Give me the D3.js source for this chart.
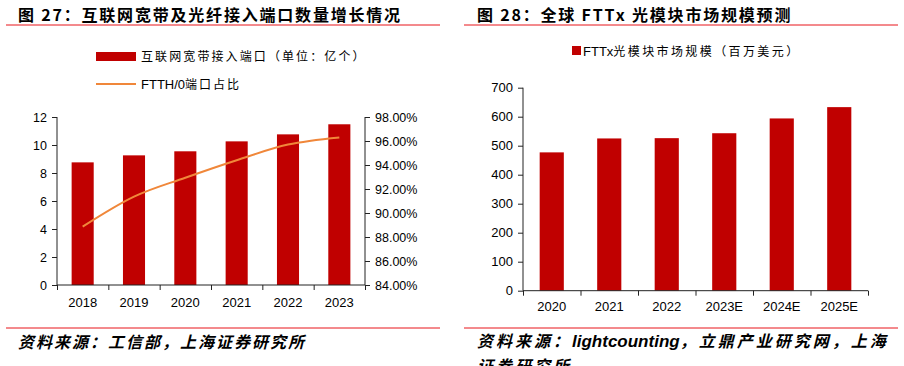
<!DOCTYPE html>
<html>
<head>
<meta charset="UTF-8">
<script src="https://cdn.jsdelivr.net/npm/d3@7"></script>
<title>FTTx</title>
<style>
  body{margin:0;background:#fff;}
  text{font-family:"Liberation Sans","Noto Sans CJK SC",sans-serif;fill:#000;}
  .cn{font-family:"Noto Sans CJK SC",sans-serif;}
</style>
</head>
<body>
<div id="container"></div>
<script>
// 图27 数据
var years1 = ["2018","2019","2020","2021","2022","2023"];
var ports = [8.76, 9.26, 9.55, 10.26, 10.76, 11.48];
var ftthShare = [88.86, 91.36, 92.94, 94.4, 95.7, 96.3];
var leftTicks1 = [0,2,4,6,8,10,12];
var rightTicks1 = [84,86,88,90,92,94,96,98];

// 图28 数据
var years2 = ["2020","2021","2022","2023E","2024E","2025E"];
var market = [477, 525, 526, 543, 594, 633];
var ticks2 = [0,100,200,300,400,500,600,700];

var barColor = "#C00000", lineColor = "#F0873A";

var svg = d3.select("#container").append("svg")
  .attr("width",904).attr("height",366);

// 标题和红线
function header(x0, x1, tx, label){
  svg.append("text").attr("x",tx).attr("y",21)
    .attr("class","cn").style("font-size","16px").style("font-weight","bold")
    .style("letter-spacing","1.8px").text(label);
  svg.append("line").attr("x1",x0).attr("x2",x1).attr("y1",25).attr("y2",25)
    .attr("stroke","#E8141B").attr("stroke-width",1);
  svg.append("line").attr("x1",x0).attr("x2",x1).attr("y1",328).attr("y2",328)
    .attr("stroke","#E8141B").attr("stroke-width",1);
}
header(6, 440, 18, "图 27：互联网宽带及光纤接入端口数量增长情况");
header(464, 898, 477, "图 28：全球 FTTx 光模块市场规模预测");

// ---------- 图27 ----------
var x1 = d3.scaleBand().domain(years1).range([57,365]).paddingInner(0.57).paddingOuter(0.285);
var y1 = d3.scaleLinear().domain([0,12]).range([285,117]);
var yr1 = d3.scaleLinear().domain([84,98]).range([285,117]);

var g1 = svg.append("g");
g1.selectAll("rect").data(ports).enter().append("rect")
  .attr("x",function(d,i){return x1(years1[i])})
  .attr("y",function(d){return y1(d)})
  .attr("width",x1.bandwidth())
  .attr("height",function(d){return y1(0)-y1(d)})
  .attr("fill",barColor);

var line1 = d3.line()
  .x(function(d,i){return x1(years1[i])+x1.bandwidth()/2})
  .y(function(d){return yr1(d)})
  .curve(d3.curveMonotoneX);
g1.append("path").datum(ftthShare).attr("d",line1)
  .attr("fill","none").attr("stroke",lineColor).attr("stroke-width",2);

// 坐标轴
var axL = g1.append("g").attr("transform","translate(57,0)")
  .call(d3.axisLeft(y1).tickValues(leftTicks1).tickSize(5).tickPadding(5));
var axR = g1.append("g").attr("transform","translate(365,0)")
  .call(d3.axisRight(yr1).tickValues(rightTicks1).tickSize(5).tickPadding(5)
    .tickFormat(function(d){return d.toFixed(2)+"%"}));
var xb1 = d3.scalePoint().domain(d3.range(7)).range([57,365]);
var axB = g1.append("g").attr("transform","translate(0,285)")
  .call(d3.axisBottom(xb1).tickSize(5).tickFormat(""));
g1.selectAll(".yr").data(years1).enter().append("text")
  .attr("x",function(d){return x1(d)+x1.bandwidth()/2}).attr("y",307)
  .attr("text-anchor","middle").style("font-size","13px").text(function(d){return d});
[axL,axR,axB].forEach(function(a){
  a.selectAll("path,line").attr("stroke","#222");
  a.select(".domain").attr("d", a === axB ? "M57,0H365" : "M0,117V285");
  a.selectAll("text").style("font-size","12.5px").style("font-family","Liberation Sans").attr("fill","#000");
});

// 图例
g1.append("rect").attr("x",96).attr("y",52).attr("width",40).attr("height",9).attr("fill",barColor);
g1.append("text").attr("x",141).attr("y",61).attr("class","cn")
  .style("font-size","12px").style("letter-spacing","2.1px").text("互联网宽带接入端口（单位：亿个）");
g1.append("line").attr("x1",96).attr("x2",136).attr("y1",84).attr("y2",84)
  .attr("stroke",lineColor).attr("stroke-width",2);
g1.append("text").attr("x",141).attr("y",89).style("font-size","13px").text("FTTH/0")
  .append("tspan").attr("class","cn").style("font-size","12px").style("letter-spacing","2px").text("端口占比");

g1.append("text").attr("x",18).attr("y",348).attr("class","cn")
  .style("font-size","16px").style("font-style","italic").style("font-weight","bold")
  .style("letter-spacing","2px").text("资料来源：工信部，上海证券研究所");

// ---------- 图28 ----------
var x2 = d3.scaleBand().domain(years2).range([523,868]).paddingInner(0.58).paddingOuter(0.29);
var y2 = d3.scaleLinear().domain([0,700]).range([290.7,87.7]);

var g2 = svg.append("g");
g2.selectAll("rect").data(market).enter().append("rect")
  .attr("x",function(d,i){return x2(years2[i])})
  .attr("y",function(d){return y2(d)})
  .attr("width",x2.bandwidth())
  .attr("height",function(d){return y2(0)-y2(d)})
  .attr("fill",barColor);

var ax2L = g2.append("g").attr("transform","translate(523,0)")
  .call(d3.axisLeft(y2).tickValues(ticks2).tickSize(5).tickPadding(5));
var xb2 = d3.scalePoint().domain(d3.range(7)).range([523,868]);
var ax2B = g2.append("g").attr("transform","translate(0,290.7)")
  .call(d3.axisBottom(xb2).tickSize(5).tickFormat(""));
g2.selectAll(".yr").data(years2).enter().append("text")
  .attr("x",function(d){return x2(d)+x2.bandwidth()/2}).attr("y",311)
  .attr("text-anchor","middle").style("font-size","13px").text(function(d){return d});
[ax2L,ax2B].forEach(function(a){
  a.selectAll("path,line").attr("stroke","#222");
  a.select(".domain").attr("d", a === ax2B ? "M523,0H868" : "M0,87.7V290.7");
  a.selectAll("text").style("font-size","13px").style("font-family","Liberation Sans").attr("fill","#000");
});

g2.append("rect").attr("x",572).attr("y",46).attr("width",9).attr("height",9).attr("fill",barColor);
g2.append("text").attr("x",583).attr("y",56).style("font-size","13px").text("FTTx")
  .append("tspan").attr("class","cn").style("font-size","12px").style("letter-spacing","2.4px")
  .text("光模块市场规模（百万美元）");

var src2 = g2.append("text").attr("x",477).attr("y",347).attr("class","cn")
  .style("font-size","16px").style("font-style","italic").style("font-weight","bold")
  .style("letter-spacing","3px");
src2.append("tspan").text("资料来源：");
src2.append("tspan").style("font-family","Liberation Sans").style("font-size","17px").style("letter-spacing","0px").text("lightcounting");
src2.append("tspan").text("，立鼎产业研究网，上海");
g2.append("text").attr("x",477).attr("y",372).attr("class","cn")
  .style("font-size","16px").style("font-style","italic").style("font-weight","bold")
  .style("letter-spacing","3px").text("证券研究所");
</script>
</body>
</html>
